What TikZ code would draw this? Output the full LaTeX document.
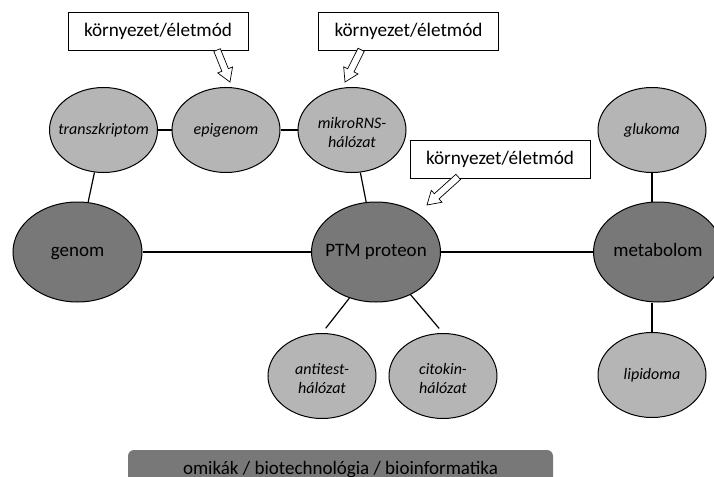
\documentclass[tikz,border=0pt]{standalone}
\usepackage{fontspec}
\setmainfont{Carlito}
\usetikzlibrary{shapes.geometric}

\definecolor{omicdark}{gray}{0.47}
\definecolor{omiclight}{gray}{0.71}

\tikzset{
	omic/.style={ellipse, draw, line width=0.5pt, inner sep=0pt},
	bigomic/.style={omic, fill=omicdark, minimum width=64.5pt, minimum height=50pt},
	smallomic/.style={omic, fill=omiclight, minimum width=54pt, minimum height=42.5pt},
	bigtext/.style={inner sep=0pt, text height=6.5pt, text depth=2pt, font=\fontsize{9.5}{11}\selectfont},
	smalltext/.style={inner sep=0pt, text height=6pt, text depth=1.5pt, font=\fontsize{8}{9.5}\selectfont\itshape},
	pairtext/.style={inner sep=0pt, align=center, yshift=-1.5pt, font=\fontsize{8}{9.5}\selectfont\itshape},
	envbox/.style={draw, fill=white, line width=0.4pt, minimum width=90pt, minimum height=19pt, font=\fontsize{9.6}{11}\selectfont},
	envarrow/.style={draw, fill=white, line width=0.35pt, line join=miter},
	link/.style={line width=0.6pt},
	omicbar/.style={fill=omicdark, rounded corners=3pt, minimum width=212.5pt, minimum height=20pt, font=\fontsize{9.5}{11}\selectfont}
}

% hollow arrow: tip, direction (deg), length
\newcommand{\hollowarrow}[3]{%
	\draw[envarrow, shift={(#1)}, rotate=#2]
	    (0,0) -- (-13,8) -- (-13,3.5) -- (-#3,3.5) -- (-#3,-3.5) -- (-13,-3.5) -- (-13,-8) -- cycle;}

\begin{document}
\begin{tikzpicture}[x=0.5pt, y=-0.5pt]
	\clip (0,0) rectangle (714,477);
	
	% --- main row
	\node[bigomic, label={[bigtext]center:genom}] (genom) at (77.5,252) {};
	\node[bigomic, label={[bigtext]center:PTM proteon}] (ptm) at (376,252) {};
	\node[bigomic, label={[bigtext]center:metabolom}] (metab) at (658,252) {};
	
	% --- upper row
	\node[smallomic, label={[smalltext]center:transzkriptom}] (transz) at (103.5,130) {};
	\node[smallomic, label={[smalltext]center:epigenom}] (epi) at (226,130) {};
	\node[smallomic, label={[pairtext]center:{mikroRNS-\\hálózat}}] (mirna) at (352,130) {};
	\node[smallomic, label={[smalltext]center:glukoma}] (gluk) at (652,130) {};
	
	% --- lower row
	\node[smallomic, label={[pairtext]center:{antitest-\\hálózat}}] (anti) at (322,376) {};
	\node[smallomic, label={[pairtext]center:{citokin-\\hálózat}}] (cito) at (443,376) {};
	\node[smallomic, label={[smalltext]center:lipidoma}] (lipid) at (652,375) {};
	
	% --- links
	\draw[link] (transz) -- (epi);
	\draw[link] (epi) -- (mirna);
	\draw[link] (transz) -- (genom);
	\draw[link] (mirna) -- (ptm);
	\draw[link] (genom) -- (ptm);
	\draw[link] (ptm) -- (metab);
	\draw[link] (gluk) -- (gluk |- metab.north);
	\draw[link] (lipid) -- (lipid |- metab.south);
	\draw[link, shorten >=3pt] (ptm.-120) -- (anti.north);
	\draw[link, shorten >=3pt] (ptm.-51) -- (cito.north);
	
	% --- environment boxes
	\node[envbox] (env1) at (158,31) {környezet/életmód};
	\node[envbox] (env2) at (408.5,31) {környezet/életmód};
	\node[envbox] (env3) at (500,159) {környezet/életmód};
	
	\coordinate (tip1) at (230,82);
	\coordinate (tip2) at (345,82);
	\coordinate (tip3) at (427,205);
	\hollowarrow{tip1}{-68}{34.5}
	\hollowarrow{tip2}{-116.6}{36}
	\hollowarrow{tip3}{-138}{42}
	
	% --- bottom bar
	\node[omicbar] (omics) at (340.5,470) {omikák / biotechnológia / bioinformatika};
\end{tikzpicture}
\end{document}
